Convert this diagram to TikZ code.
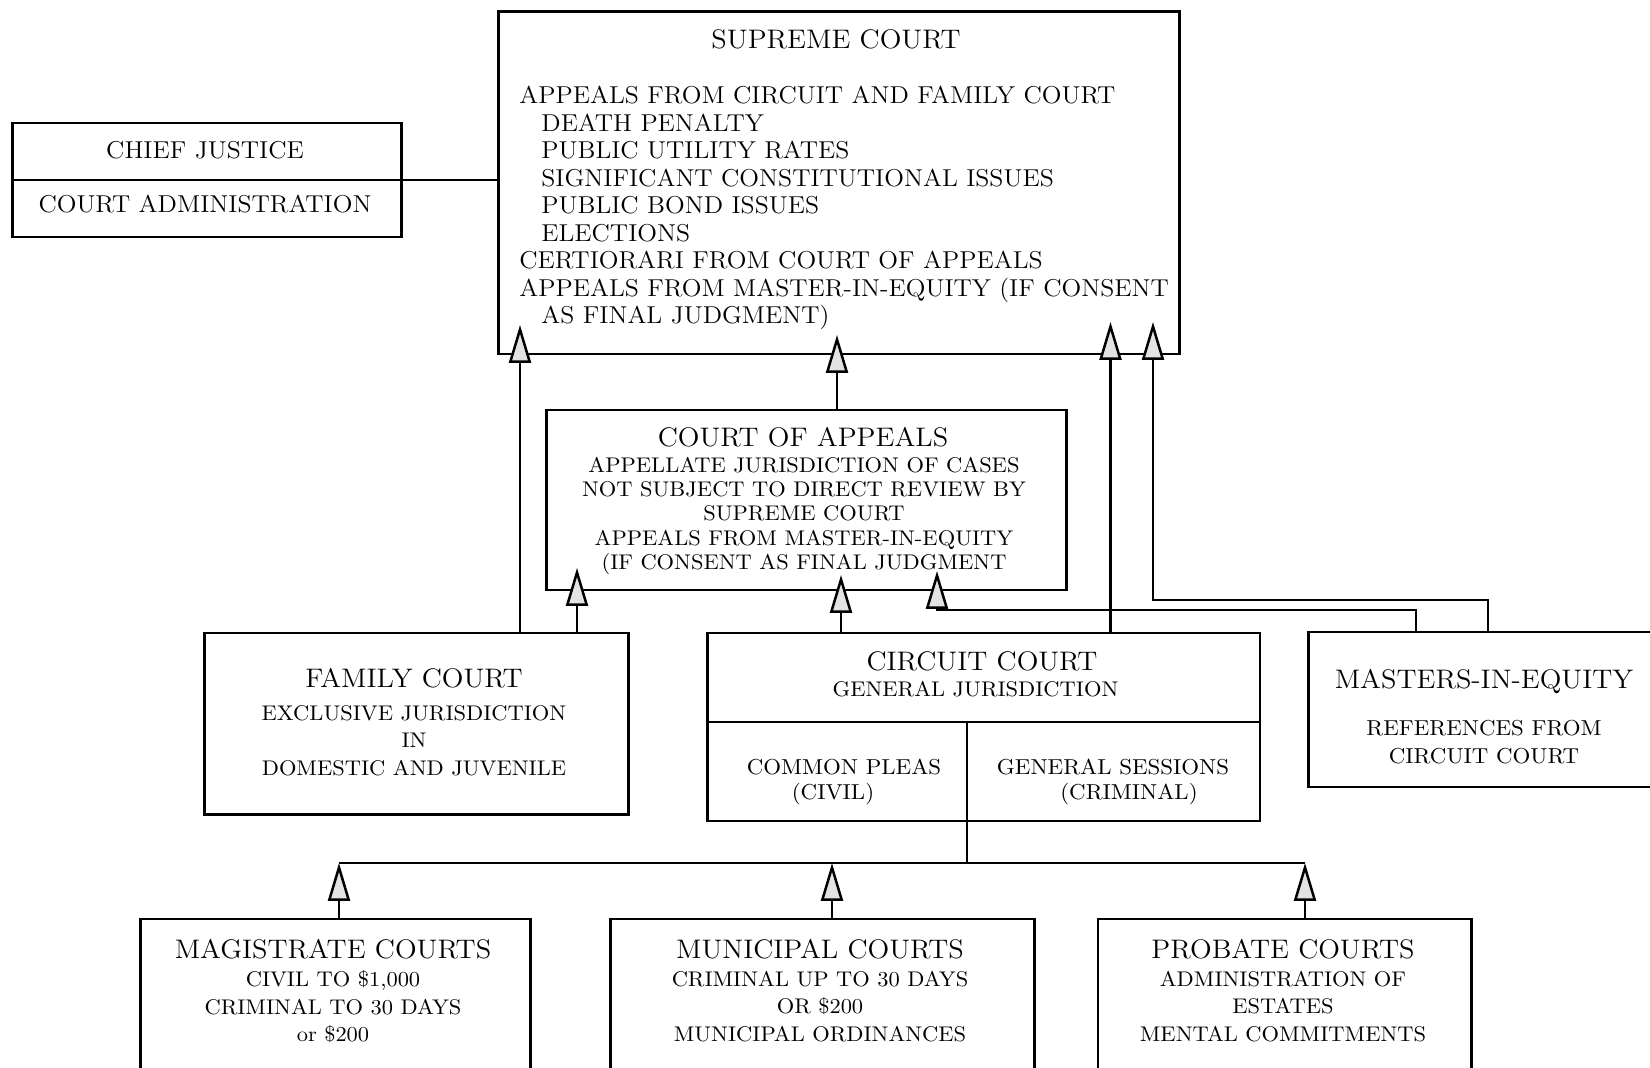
\documentclass[tikz,border=0pt]{standalone}
\usepackage{fontspec}
\setmainfont{Latin Modern Roman}[FakeStretch=1.06]
\usetikzlibrary{arrows.meta}
\begin{document}
\begin{tikzpicture}[x=0.5pt,y=-0.5pt,
  box/.style={draw,line width=1.25pt,inner sep=0pt,anchor=north west},
  ln/.style={line width=1.25pt},
  arr/.style={line width=1.25pt,-{Triangle[length=19pt,width=11pt,fill=gray!22]}},
  txt/.style={inner sep=0pt},
  ftitle/.style={txt,font=\fontsize{13.4}{15}\selectfont},
  fsup/.style={txt,font=\fontsize{12.2}{13.75}\selectfont},
  fsmall/.style={txt,font=\fontsize{10.6}{12.1}\selectfont},
  fsmallb/.style={txt,font=\fontsize{10.6}{13.75}\selectfont},
  fmid/.style={txt,font=\fontsize{10.8}{13.75}\selectfont}
]
\useasboundingbox (0,0) rectangle (1650,1068);
\clip (0,0) rectangle (1650,1068);
\fill[white] (0,0) rectangle (1650,1068);

% ---------- boxes ----------
\node[box,minimum width=340.5pt,minimum height=171.25pt] (sup) at (497,10.5) {};
\node[box,minimum width=194.5pt,minimum height=57pt] (cj) at (11,122) {};
\node[box,minimum width=260pt,minimum height=90pt] (coa) at (545,409) {};
\node[box,minimum width=212pt,minimum height=90.75pt] (fam) at (203,632) {};
\node[box,minimum width=276.3pt,minimum height=94pt] (cir) at (706,632) {};
\node[box,minimum width=210pt,minimum height=77.5pt] (mas) at (1307,631) {};
\node[box,minimum width=195pt,minimum height=100pt] (mag) at (139,917.6) {};
\node[box,minimum width=212pt,minimum height=100pt] (mun) at (609,917.6) {};
\node[box,minimum width=186.75pt,minimum height=100pt] (pro) at (1096.5,917.6) {};

% dividers
\draw[ln] (cj.west) -- (cj.east);
\coordinate (cirdivL) at (706,722);
\draw[ln] (cirdivL) -- (cirdivL -| cir.east);
\coordinate (cirmid) at (967,722);
\draw[ln] (cirmid) -- (cirmid |- cir.south);

% ---------- texts ----------
\node[ftitle] (supT) at (836,39) {SUPREME COURT};
\node[fsup,anchor=north west,align=left] (supB) at (519,86) {APPEALS FROM CIRCUIT AND FAMILY COURT\\
\hspace*{11pt}DEATH PENALTY\\
\hspace*{11pt}PUBLIC UTILITY RATES\\
\hspace*{11pt}SIGNIFICANT CONSTITUTIONAL ISSUES\\
\hspace*{11pt}PUBLIC BOND ISSUES\\
\hspace*{11pt}ELECTIONS\\
CERTIORARI FROM COURT OF APPEALS\\
APPEALS FROM MASTER-IN-EQUITY (IF CONSENT\\
\hspace*{11pt}AS FINAL JUDGMENT)};

\node[fsup] (cjT) at (205,150) {CHIEF JUSTICE};
\node[fsup] (cjB) at (205,204) {COURT ADMINISTRATION};

\node[ftitle] (coaT) at (803,437) {COURT OF APPEALS};
\node[fsmall,anchor=north,align=center] (coaB) at (804,457) {APPELLATE JURISDICTION OF CASES\\
NOT SUBJECT TO DIRECT REVIEW BY\\
SUPREME COURT\\
APPEALS FROM MASTER-IN-EQUITY\\
(IF CONSENT AS FINAL JUDGMENT};

\node[ftitle] (famT) at (414,678) {FAMILY COURT};
\node[fsmallb,anchor=north,align=center] (famB) at (414,705) {EXCLUSIVE JURISDICTION\\
IN\\
DOMESTIC AND JUVENILE};

\node[ftitle] (cirT) at (982,661) {CIRCUIT COURT};
\node[fsmall] (cirB) at (975.5,689) {GENERAL JURISDICTION};
\node[fmid] (cp) at (844,767) {COMMON PLEAS};
\node[fmid] (cpc) at (833,794.5) {(CIVIL)};
\node[fmid] (gs) at (1113,767) {GENERAL SESSIONS};
\node[fmid] (gsc) at (1129,794.5) {(CRIMINAL)};

\node[ftitle] (masT) at (1484,682) {MASTERS-IN-EQUITY};
\node[fmid,anchor=north,align=center] (masB) at (1484,720) {REFERENCES FROM\\
CIRCUIT COURT};

\node[ftitle] (magT) at (333,949) {MAGISTRATE COURTS};
\node[fsmallb,anchor=north,align=center] (magB) at (333,970.5) {CIVIL TO \$1,000\\
CRIMINAL TO 30 DAYS\\
or \$200};

\node[ftitle] (munT) at (820,949) {MUNICIPAL COURTS};
\node[fsmallb,anchor=north,align=center] (munB) at (820,970.5) {CRIMINAL UP TO 30 DAYS\\
OR \$200\\
MUNICIPAL ORDINANCES};

\node[ftitle] (proT) at (1283,949) {PROBATE COURTS};
\node[fsmallb,anchor=north,align=center] (proB) at (1283,970.5) {ADMINISTRATION OF\\
ESTATES\\
MENTAL COMMITMENTS};

% ---------- connectors ----------
\draw[ln] (cj.east) -- (cj.east -| sup.west);

\coordinate (tFS) at (520,325);
\coordinate (tFC) at (577,568);
\coordinate (tCS) at (837,335);
\coordinate (tRC) at (841,575);
\coordinate (tRS) at (1110.5,322);
\coordinate (tMS) at (1153,322);
\coordinate (tMC) at (937,571);
\coordinate (mS1) at (1488,600);
\coordinate (mC1) at (1416,610);

\draw[arr] (fam.north -| tFS) -- (tFS);
\draw[arr] (fam.north -| tFC) -- (tFC);
\draw[arr] (coa.north -| tCS) -- (tCS);
\draw[arr] (cir.north -| tRC) -- (tRC);
\draw[arr] (cir.north -| tRS) -- (tRS);
\draw[arr] (mas.north -| mS1) -- (mS1) -- (mS1 -| tMS) -- (tMS);
\draw[arr] (mas.north -| mC1) -- (mC1) -- (mC1 -| tMC) -- (tMC);

\coordinate (bus) at (967,863);
\coordinate (busL) at (339,863);
\coordinate (busM) at (832,863);
\coordinate (busR) at (1305,863);
\draw[ln] (cirmid |- cir.south) -- (bus);
\draw[ln] (busL) -- (busR);
\draw[arr] (mag.north -| busL) -- (busL);
\draw[arr] (mun.north -| busM) -- (busM);
\draw[arr] (pro.north -| busR) -- (busR);
\end{tikzpicture}
\end{document}
